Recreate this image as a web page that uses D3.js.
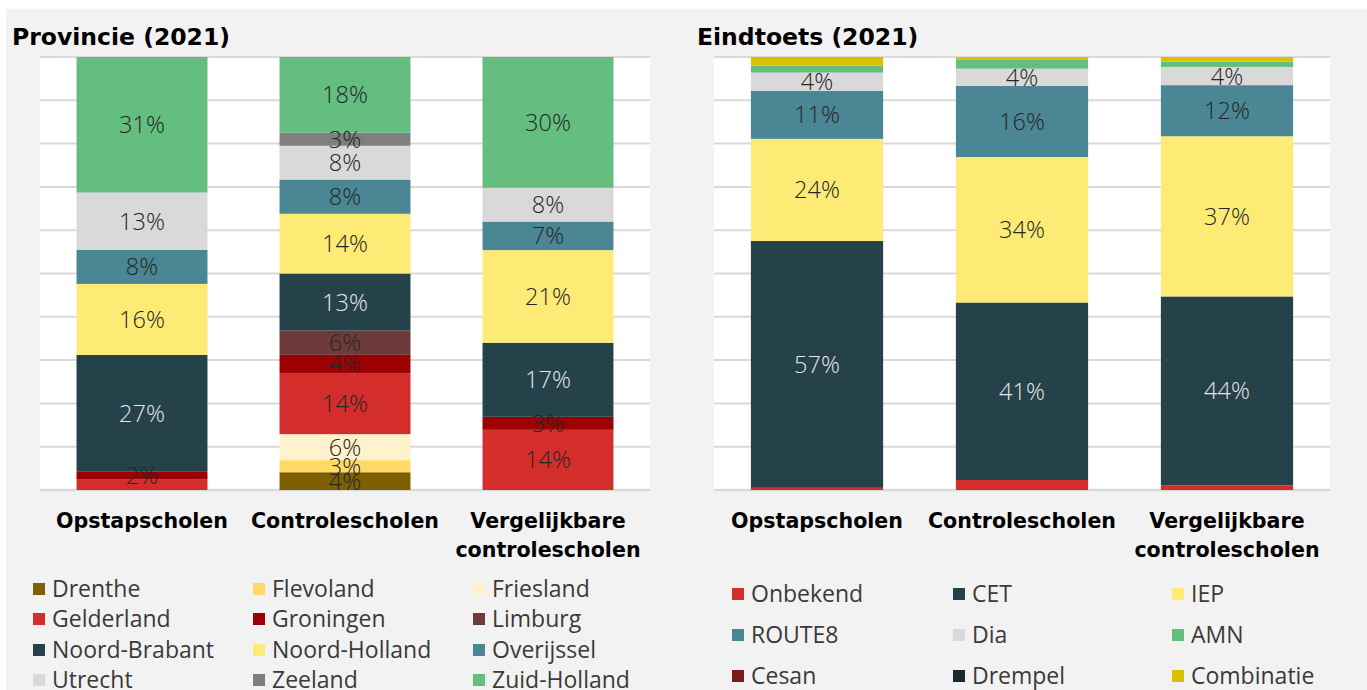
<!DOCTYPE html>
<html>
<head>
<meta charset="utf-8">
<script src="https://cdn.jsdelivr.net/npm/d3@7"></script>
<style>
  html, body { margin: 0; padding: 0; background: #ffffff; }
  svg { display: block; }
</style>
</head>
<body>
<svg id="chart" width="1367" height="690"></svg>
<script>
// ---------------- DATA ----------------
const groups = ["Opstapscholen", "Controlescholen", "Vergelijkbare controlescholen"];

const provinces = ["Drenthe", "Flevoland", "Friesland", "Gelderland", "Groningen", "Limburg",
  "Noord-Brabant", "Noord-Holland", "Overijssel", "Utrecht", "Zeeland", "Zuid-Holland"];
const provOpstap     = [0, 0, 0, 2.4, 1.8, 0, 27.0, 16.4, 7.9, 13.2, 0, 31.3];
const provControle   = [4.1, 2.8, 6.0, 14.1, 4.2, 5.6, 13.2, 13.8, 7.9, 7.8, 3.0, 17.5];
const provVergelijk  = [0, 0, 0, 13.9, 3.0, 0, 17.1, 21.4, 6.6, 7.8, 0, 30.2];
const provHiddenLabels = [["Opstapscholen", "Gelderland"]];

const toetsen = ["Onbekend", "CET", "IEP", "ROUTE8", "Dia", "AMN", "Cesan", "Drempel", "Combinatie"];
const toetsOpstap    = [0.5, 57.0, 23.6, 11.1, 4.2, 1.6, 0, 0, 2.0];
const toetsControle  = [2.3, 41.0, 33.6, 16.4, 4.0, 2.0, 0, 0, 0.7];
const toetsVergelijk = [1.1, 43.6, 37.0, 11.8, 4.2, 1.2, 0, 0, 1.1];
const toetsLabelMin = 3.5;

const gridTicks = [0, 10, 20, 30, 40, 50, 60, 70, 80, 90, 100];

const titles = ["Provincie (2021)", "Eindtoets (2021)"];

// ---------------- STYLE ----------------
const provColors = ["#7f6000", "#ffd966", "#fff2cc", "#d42e2c", "#9c0000", "#6e3b3b",
  "#25414a", "#fdeb76", "#4b8694", "#d9d9d9", "#7f7f7f", "#64be80"];
const toetsColors = ["#d42e2c", "#25414a", "#fdeb76", "#4b8694", "#d9d9d9", "#64be80",
  "#7a1c1c", "#1b2a2f", "#dcc100"];
const darkFills = new Set(["#25414a", "#1b2a2f"]);

const REG = "'Open Sans', 'Noto Sans', sans-serif";
const BOLD = "'DejaVu Sans', Verdana, sans-serif";

const svg = d3.select("#chart");
svg.append("rect").attr("x", 6).attr("y", 9).attr("width", 1361).attr("height", 681).attr("fill", "#f2f2f2");

function drawPanel(cfg) {
  const g = svg.append("g");
  const rows = groups.map((grp, i) => {
    const o = { group: grp };
    cfg.keys.forEach((k, j) => o[k] = cfg.series[i][j]);
    return o;
  });
  const x = d3.scaleBand().domain(groups).range([cfg.x0, cfg.x1]).paddingInner(0.355).paddingOuter(0.18);
  const y = d3.scaleLinear().domain([0, 100]).range([cfg.yBottom, cfg.yTop]);
  const color = d3.scaleOrdinal().domain(cfg.keys).range(cfg.colors);

  // plot background
  g.append("rect").attr("x", cfg.x0).attr("y", cfg.yTop).attr("width", cfg.x1 - cfg.x0)
    .attr("height", cfg.yBottom - cfg.yTop).attr("fill", "#ffffff");

  // gridlines
  g.append("g").selectAll("line").data(gridTicks).join("line")
    .attr("x1", cfg.x0).attr("x2", cfg.x1)
    .attr("y1", d => y(d)).attr("y2", d => y(d))
    .attr("stroke", "#d9d9d9").attr("stroke-width", d => d === 0 ? 2.5 : 2);

  const stacked = d3.stack().keys(cfg.keys)(rows);

  const layers = g.append("g").selectAll("g").data(stacked).join("g")
    .attr("fill", d => color(d.key));
  layers.selectAll("rect").data(d => d.map(v => ({ key: d.key, v }))).join("rect")
    .attr("x", d => x(d.v.data.group))
    .attr("width", x.bandwidth())
    .attr("y", d => y(d.v[1]))
    .attr("height", d => Math.max(0, y(d.v[0]) - y(d.v[1])));

  // labels
  const labelData = [];
  stacked.forEach(layer => {
    layer.forEach(v => {
      const val = v[1] - v[0];
      if (val <= 0) return;
      if (!cfg.showLabel(v.data.group, layer.key, val)) return;
      labelData.push({ key: layer.key, group: v.data.group, val, y0: v[0], y1: v[1] });
    });
  });
  g.append("g").selectAll("text").data(labelData).join("text")
    .attr("x", d => x(d.group) + x.bandwidth() / 2)
    .attr("y", d => y((d.y0 + d.y1) / 2))
    .attr("dy", "0.36em")
    .attr("text-anchor", "middle")
    .attr("font-family", REG)
    .attr("font-size", 23.5)
    .attr("font-weight", 300)
    .attr("fill", d => darkFills.has(color(d.key)) ? "#e6e6e6" : "#262626")
    .text(d => Math.round(d.val) + "%");

  // category labels
  const cat = g.append("g").selectAll("text").data(groups).join("text")
    .attr("x", d => x(d) + x.bandwidth() / 2)
    .attr("y", 528)
    .attr("text-anchor", "middle")
    .attr("font-family", BOLD)
    .attr("font-weight", "bold")
    .attr("font-size", 20.6)
    .attr("fill", "#000000");
  cat.each(function (d) {
    const words = d.split(" ");
    const t = d3.select(this);
    if (words.length > 1) {
      t.append("tspan").attr("x", x(d) + x.bandwidth() / 2).attr("dy", 0).text(words[0]);
      t.append("tspan").attr("x", x(d) + x.bandwidth() / 2).attr("dy", 29).text(words.slice(1).join(" "));
    } else {
      t.text(d);
    }
  });

  // title
  g.append("text").attr("x", cfg.titleX).attr("y", 45)
    .attr("font-family", BOLD).attr("font-weight", "bold").attr("font-size", 23.5)
    .attr("fill", "#000000").text(cfg.title);

  // legend
  const leg = g.append("g").selectAll("g").data(cfg.keys).join("g")
    .attr("transform", (d, i) => `translate(${cfg.legX[i % 3]},${cfg.legY[Math.floor(i / 3)]})`);
  leg.append("rect").attr("x", 0).attr("y", -6).attr("width", 12).attr("height", 12)
    .attr("fill", d => color(d));
  leg.append("text").attr("x", 19).attr("y", 0).attr("dy", "0.36em")
    .attr("font-family", REG).attr("font-size", 23).attr("fill", "#3a3a3a")
    .text(d => d);
}

drawPanel({
  keys: provinces, colors: provColors,
  series: [provOpstap, provControle, provVergelijk],
  x0: 40, x1: 650, yTop: 57, yBottom: 490,
  title: titles[0], titleX: 12,
  legX: [33, 253, 473], legY: [589, 619, 650, 680],
  showLabel: (grp, key) => !provHiddenLabels.some(h => h[0] === grp && h[1] === key)
});

drawPanel({
  keys: toetsen, colors: toetsColors,
  series: [toetsOpstap, toetsControle, toetsVergelijk],
  x0: 714, x1: 1330, yTop: 57, yBottom: 490,
  title: titles[1], titleX: 697,
  legX: [732, 953, 1172], legY: [594, 635, 676],
  showLabel: (grp, key, val) => val >= toetsLabelMin
});
</script>
</body>
</html>
